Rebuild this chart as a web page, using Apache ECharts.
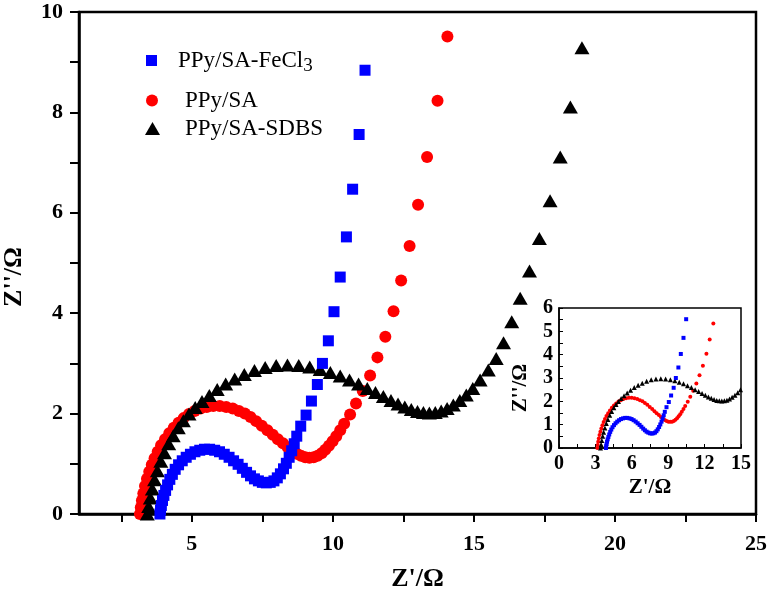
<!DOCTYPE html>
<html>
<head>
<meta charset="utf-8">
<script src="https://cdn.jsdelivr.net/npm/echarts@6/dist/echarts.min.js"></script>
<style>html,body{margin:0;padding:0;background:#fff;}#c{width:772px;height:597px;}</style>
</head>
<body>
<div id="c"></div>
<script>
// ---- data ----
const seriesNames = ['PPy/SA-FeCl3', 'PPy/SA', 'PPy/SA-SDBS'];

const feclX = [3.87,3.89,3.92,3.96,4.01,4.07,4.14,4.22,4.31,4.41,4.53,4.66,4.80,4.95,5.11,5.28,5.45,5.63,5.81,5.98,6.15,6.32,6.48,6.64,6.79,6.94,7.08,7.22,7.36,7.50,7.64,7.78,7.91,8.03,8.14,8.25,8.35,8.45,8.54,8.63,8.72,8.86,9.05,9.24,9.45,9.63,9.84,10.04,10.26,10.48,10.70,10.93,11.14];
const feclY = [0.00,0.08,0.17,0.27,0.37,0.47,0.58,0.69,0.79,0.89,0.98,1.06,1.13,1.19,1.24,1.27,1.29,1.29,1.27,1.24,1.19,1.13,1.06,0.99,0.91,0.83,0.76,0.70,0.66,0.63,0.62,0.63,0.66,0.72,0.80,0.90,1.01,1.13,1.26,1.40,1.55,1.75,1.97,2.25,2.58,3.00,3.45,4.03,4.72,5.52,6.47,7.56,8.84];

const saX = [3.16,3.19,3.23,3.28,3.34,3.41,3.49,3.58,3.68,3.79,3.91,4.05,4.20,4.36,4.53,4.71,4.90,5.10,5.31,5.53,5.76,5.99,6.22,6.45,6.67,6.88,7.08,7.28,7.48,7.68,7.87,8.05,8.23,8.40,8.56,8.72,8.87,9.02,9.17,9.32,9.46,9.60,9.73,9.86,9.99,10.12,10.26,10.40,10.61,10.82,11.06,11.32,11.58,11.86,12.15,12.42,12.72,13.02,13.34,13.71,14.06];
const saY = [0.00,0.13,0.27,0.41,0.56,0.70,0.84,0.98,1.11,1.24,1.37,1.49,1.61,1.72,1.82,1.91,1.99,2.05,2.10,2.13,2.15,2.15,2.13,2.10,2.05,2.00,1.93,1.85,1.76,1.67,1.58,1.49,1.41,1.33,1.26,1.20,1.16,1.13,1.12,1.13,1.16,1.21,1.28,1.36,1.45,1.55,1.67,1.80,1.98,2.20,2.45,2.76,3.12,3.53,4.04,4.65,5.34,6.16,7.11,8.23,9.51];

const sdbsX = [3.42,3.47,3.53,3.60,3.68,3.78,3.90,4.03,4.18,4.34,4.52,4.70,4.90,5.12,5.36,5.62,5.90,6.20,6.52,6.86,7.22,7.60,7.99,8.39,8.79,9.18,9.55,9.91,10.26,10.59,10.91,11.22,11.51,11.79,12.06,12.31,12.55,12.78,13.00,13.21,13.42,13.63,13.84,14.05,14.27,14.50,14.73,14.96,15.22,15.51,15.79,16.05,16.34,16.64,16.97,17.32,17.70,18.06,18.42,18.83];
const sdbsY = [0.00,0.15,0.32,0.50,0.68,0.86,1.05,1.22,1.40,1.56,1.72,1.86,1.99,2.12,2.24,2.36,2.48,2.59,2.69,2.78,2.86,2.92,2.96,2.97,2.96,2.93,2.88,2.82,2.75,2.67,2.59,2.50,2.42,2.34,2.26,2.19,2.13,2.08,2.04,2.02,2.01,2.02,2.05,2.10,2.17,2.26,2.37,2.50,2.67,2.87,3.10,3.41,3.83,4.30,4.84,5.49,6.24,7.11,8.11,9.29];

const mainXTicks = [2.5,5,7.5,10,12.5,15,17.5,20,22.5,25];
const mainXLabels = [5,10,15,20,25];
const mainYTicks = [0,1,2,3,4,5,6,7,8,9,10];
const mainYLabels = [0,2,4,6,8,10];
const insetXTicks = [0,1.5,3,4.5,6,7.5,9,10.5,12,13.5,15];
const insetXLabels = [0,3,6,9,12,15];
const insetYTicks = [0,0.5,1,1.5,2,2.5,3,3.5,4,4.5,5,5.5,6];
const insetYLabels = [0,1,2,3,4,5,6];

// ---- build ----
const zip = (xs, ys) => xs.map((x, i) => [x, ys[i]]);
const FONT = "Liberation Serif";
const chart = echarts.init(document.getElementById('c'), null, {renderer: 'canvas'});

function valueAxis(opts) {
  return Object.assign({
    type: 'value',
    splitLine: {show: false},
    axisLine: {show: true, onZero: false, lineStyle: {color: '#000', width: 2.5}},
    axisTick: {show: true, lineStyle: {color: '#000', width: 2}},
    axisLabel: {color: '#000', fontFamily: FONT, fontWeight: 'bold'},
    nameTextStyle: {color: '#000', fontFamily: FONT, fontWeight: 'bold'}
  }, opts);
}

const legendBase = {
  orient: 'vertical', padding: 0, selectedMode: false,
  textStyle: {color: '#000', fontFamily: FONT, fontSize: 23,
    rich: {sub: {fontFamily: FONT, fontSize: 19, color: '#000', padding: [12, 0, 0, 0]}}},
  formatter: n => n === 'PPy/SA-FeCl3' ? 'PPy/SA-FeCl{sub|3}' : n
};

const option = {
  animation: false,
  backgroundColor: '#fff',
  grid: [
    {left: 79, top: 12, width: 677, height: 502, show: true, borderColor: '#000', borderWidth: 2.5,
      containLabel: false, outerBoundsMode: 'none'},
    {left: 559, top: 308, width: 182, height: 140, show: true, borderColor: '#000', borderWidth: 1.5,
      backgroundColor: '#fff', containLabel: false, outerBoundsMode: 'none'}
  ],
  legend: [
    Object.assign({}, legendBase, {left: 146, top: 49, itemWidth: 11, itemHeight: 11,
      data: [{name: seriesNames[0], icon: 'rect'}],
      textStyle: Object.assign({}, legendBase.textStyle, {padding: [0, 0, 0, 16]})}),
    Object.assign({}, legendBase, {left: 146, top: 89, itemWidth: 12, itemHeight: 12,
      data: [{name: seriesNames[1], icon: 'circle'}],
      textStyle: Object.assign({}, legendBase.textStyle, {padding: [0, 0, 0, 22]})}),
    Object.assign({}, legendBase, {left: 145, top: 117, itemWidth: 15, itemHeight: 13,
      data: [{name: seriesNames[2], icon: 'triangle'}],
      textStyle: Object.assign({}, legendBase.textStyle, {padding: [0, 0, 0, 20]})})
  ],
  xAxis: [
    valueAxis({gridIndex: 0, min: 1, max: 25, name: "Z'/Ω", nameLocation: 'middle', nameGap: 52,
      nameTextStyle: {color: '#000', fontFamily: FONT, fontWeight: 'bold', fontSize: 26},
      axisTick: {show: true, inside: false, length: 8, lineStyle: {color: '#000', width: 2}, customValues: mainXTicks},
      axisLabel: {color: '#000', fontFamily: FONT, fontWeight: 'bold', fontSize: 22, margin: 19, customValues: mainXLabels}}),
    valueAxis({gridIndex: 1, min: 0, max: 15, name: "Z'/Ω", nameLocation: 'middle', nameGap: 29,
      axisLine: {show: true, onZero: false, lineStyle: {color: '#000', width: 1.5}},
      nameTextStyle: {color: '#000', fontFamily: FONT, fontWeight: 'bold', fontSize: 21},
      axisTick: {show: true, inside: true, length: 4, lineStyle: {color: '#000', width: 1}, customValues: insetXTicks},
      axisLabel: {color: '#000', fontFamily: FONT, fontWeight: 'bold', fontSize: 20, margin: 6, customValues: insetXLabels}})
  ],
  yAxis: [
    valueAxis({gridIndex: 0, min: 0, max: 10, name: "Z''/Ω", nameLocation: 'middle', nameGap: 52,
      nameTextStyle: {color: '#000', fontFamily: FONT, fontWeight: 'bold', fontSize: 26, padding: [0, 28, 0, 0]},
      axisTick: {show: true, inside: false, length: 9, lineStyle: {color: '#000', width: 2}, customValues: mainYTicks},
      axisLabel: {color: '#000', fontFamily: FONT, fontWeight: 'bold', fontSize: 22, margin: 16, customValues: mainYLabels}}),
    valueAxis({gridIndex: 1, min: 0, max: 6, name: "Z''/Ω", nameLocation: 'middle', nameGap: 28,
      axisLine: {show: true, onZero: false, lineStyle: {color: '#000', width: 1.5}},
      nameTextStyle: {color: '#000', fontFamily: FONT, fontWeight: 'bold', fontSize: 21, padding: [0, 20, 0, 0]},
      axisTick: {show: true, inside: true, length: 4, lineStyle: {color: '#000', width: 1}, customValues: insetYTicks},
      axisLabel: {color: '#000', fontFamily: FONT, fontWeight: 'bold', fontSize: 20, margin: 6, customValues: insetYLabels}})
  ],
  series: [
    {name: seriesNames[1], type: 'scatter', xAxisIndex: 0, yAxisIndex: 0, symbol: 'circle', symbolSize: 12,
      itemStyle: {color: '#ff0000', opacity: 1}, data: zip(saX, saY)},
    {name: seriesNames[2], type: 'scatter', xAxisIndex: 0, yAxisIndex: 0, symbol: 'triangle', symbolSize: [15, 13],
      itemStyle: {color: '#000000', opacity: 1}, data: zip(sdbsX, sdbsY)},
    {name: seriesNames[0], type: 'scatter', xAxisIndex: 0, yAxisIndex: 0, symbol: 'rect', symbolSize: 11,
      itemStyle: {color: '#0000ff', opacity: 1}, data: zip(feclX, feclY)},
    {name: seriesNames[1], type: 'scatter', xAxisIndex: 1, yAxisIndex: 1, symbol: 'circle', symbolSize: 4, clip: true,
      itemStyle: {color: '#ff0000', opacity: 1}, data: zip(saX, saY)},
    {name: seriesNames[2], type: 'scatter', xAxisIndex: 1, yAxisIndex: 1, symbol: 'triangle', symbolSize: 5, clip: true,
      itemStyle: {color: '#000000', opacity: 1}, data: zip(sdbsX, sdbsY)},
    {name: seriesNames[0], type: 'scatter', xAxisIndex: 1, yAxisIndex: 1, symbol: 'rect', symbolSize: 4, clip: true,
      itemStyle: {color: '#0000ff', opacity: 1}, data: zip(feclX, feclY)}
  ]
};
chart.setOption(option);
</script>
</body>
</html>
